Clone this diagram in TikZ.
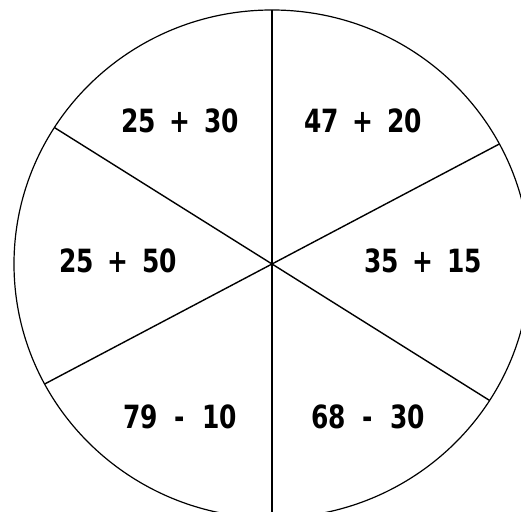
\documentclass[tikz,border=0pt]{standalone}
\usepackage{fontspec}
\setmainfont{DejaVu Sans}
\usetikzlibrary{calc}
\newcommand{\psp}{\hspace{0.55em}}
\newcommand{\msp}{\hspace{0.68em}}
\begin{document}
\begin{tikzpicture}[x=1pt,y=1pt,
  sumtext/.style={font=\bfseries\fontsize{32}{40}\selectfont, inner sep=0pt, xscale=0.78},
  rim/.style={draw=black, line width=1.2pt},
  spoke/.style={draw=black, line width=1.4pt}]
\useasboundingbox (0,0) rectangle (521,511);
\fill[white] (0,0) rectangle (521,511);
\coordinate (c) at (272,247);
\draw[rim] (c) ellipse [x radius=258, y radius=254];
\coordinate (pTop) at ($(c)+(90:258 and 254)$);
\coordinate (pBot) at ($(c)+(270:258 and 254)$);
\coordinate (pUL) at ($(c)+(147.5:258 and 254)$);
\coordinate (pLR) at ($(c)+(327.5:258 and 254)$);
\coordinate (pUR) at ($(c)+(28.2:258 and 254)$);
\coordinate (pLL) at ($(c)+(208.2:258 and 254)$);
\draw[spoke, line width=1.8pt] (pTop) -- (pBot);
\draw[spoke] (pUL) -- (pLR);
\draw[spoke] (pUR) -- (pLL);
\node[sumtext] (s1) at (180,390) {25\psp+\psp30};
\node[sumtext] (s2) at (363,390) {47\psp+\psp20};
\node[sumtext] (s3) at (118,250) {25\psp+\psp50};
\node[sumtext] (s4) at (423,250) {35\psp+\psp15};
\node[sumtext] (s5) at (180,94) {79\msp-\msp10};
\node[sumtext] (s6) at (368,94) {68\msp-\msp30};
\end{tikzpicture}
\end{document}
